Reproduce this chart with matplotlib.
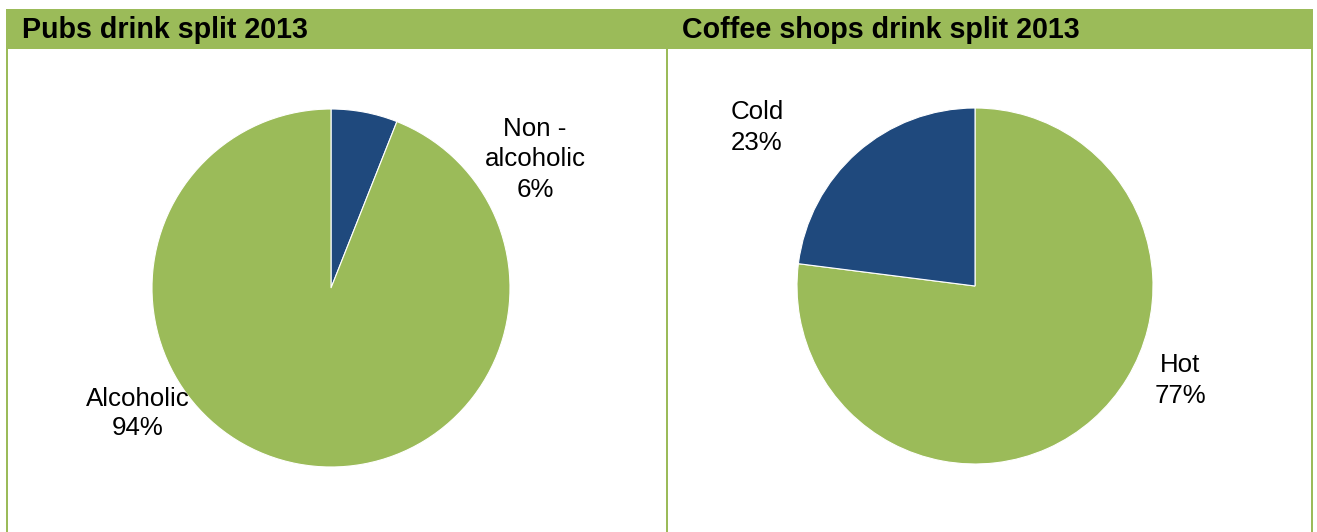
import matplotlib
matplotlib.use("Agg")
import matplotlib.pyplot as plt
from matplotlib.patches import Rectangle

plt.rcParams["font.family"] = ["Liberation Sans", "DejaVu Sans"]

# Data
pub_labels = ["Non -\nalcoholic", "Alcoholic"]
pub_values = [6, 94]
coffee_labels = ["Hot", "Cold"]
coffee_values = [77, 23]
titles = ["Pubs drink split 2013", "Coffee shops drink split 2013"]

GREEN = "#9BBB59"
BLUE = "#1F497D"
W, H = 1317, 532

fig = plt.figure(figsize=(W / 100, H / 100), dpi=100)
ax = fig.add_axes([0, 0, 1, 1])


def py(y):
    """Convert a top-down pixel row into the axes' bottom-up coordinate."""
    return H - y


# Pies
ax.pie(pub_values, colors=[BLUE, GREEN], startangle=90, counterclock=False,
       center=(331, py(288)), radius=179,
       wedgeprops=dict(edgecolor="white", linewidth=0.8))
ax.pie(coffee_values, colors=[GREEN, BLUE], startangle=90, counterclock=False,
       center=(975, py(286)), radius=178,
       wedgeprops=dict(edgecolor="white", linewidth=0.8))

ax.set_xlim(0, W)
ax.set_ylim(0, H)
ax.set_aspect("auto")
ax.axis("off")

# Header band and panel borders
ax.add_patch(Rectangle((6, py(49)), 1307, 40, facecolor=GREEN, edgecolor="none", zorder=0))
for x0 in (6, 666, 1311):
    ax.add_patch(Rectangle((x0, 0), 2.4, py(49), facecolor=GREEN, edgecolor="none", zorder=0))

ax.text(22, py(37.5), titles[0], fontsize=20.6, fontweight="bold", ha="left", va="baseline")
ax.text(682, py(37.5), titles[1], fontsize=20.6, fontweight="bold", ha="left", va="baseline")


def label(x, first_baseline, name, value, step=30.5):
    lines = name.split("\n") + [f"{value}%"]
    for i, line in enumerate(lines):
        ax.text(x, py(first_baseline + i * step), line, fontsize=18.6,
                ha="center", va="baseline", color="black")


label(535, 136, pub_labels[0], pub_values[0])
label(137.5, 406, pub_labels[1], pub_values[1], step=29)
label(1180, 372, coffee_labels[0], coffee_values[0], step=31)
label(757, 119, coffee_labels[1], coffee_values[1], step=31)

fig.savefig("out.png", dpi=100, facecolor="white")
